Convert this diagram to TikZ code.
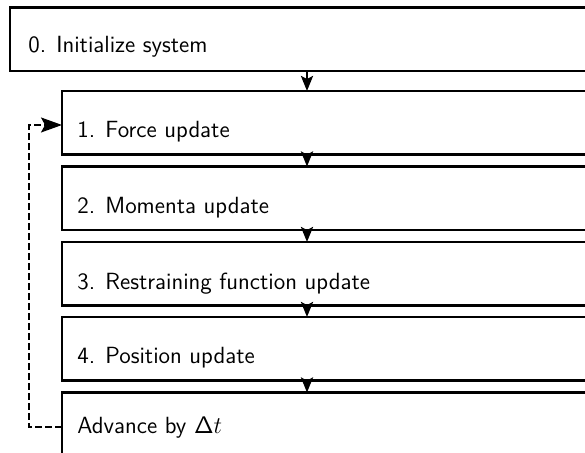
\documentclass[tikz,border=0pt]{standalone}
\usetikzlibrary{arrows.meta}
\begin{document}
\begin{tikzpicture}[x=0.5pt,y=-0.5pt,
  stepbox/.style={draw, line width=1.2pt, rectangle, inner sep=0pt, outer sep=0pt,
    anchor=north west, minimum height=31.75pt},
  steptext/.style={anchor=base west, inner sep=0pt,
    font=\sffamily\fontsize{11.7}{14}\selectfont},
  flow/.style={line width=1.2pt, -{Stealth[length=7.5pt,width=6pt,inset=1.5pt]}},
  loopback/.style={line width=0.7pt, dash pattern=on 3.5pt off 1.5pt,
    -{Stealth[length=10.5pt,width=7.5pt,inset=2pt]}}]
\path[use as bounding box, clip] (0,0) rectangle (585,453);

% step boxes (they run past the right and bottom edges)
\node[stepbox, minimum width=295pt] (b0) at (10,7.5) {};
\node[stepbox, minimum width=269pt] (b1) at (62,91) {};
\node[stepbox, minimum width=269pt] (b2) at (62,166.5) {};
\node[stepbox, minimum width=269pt] (b3) at (62,242) {};
\node[stepbox, minimum width=269pt] (b4) at (62,317) {};
\node[stepbox, minimum width=269pt, minimum height=34.5pt] (b5) at (62,392.5) {};

% step labels
\node[steptext] (t0) at (28,52.7) {0. Initialize system};
\node[steptext] (t1) at (77,137.3) {1. Force update};
\node[steptext] (t2) at (77,213.3) {2. Momenta update};
\node[steptext] (t3) at (77,289.3) {3. Restraining function update};
\node[steptext] (t4) at (77,364) {4. Position update};
\node[steptext] (t5) at (77,434) {Advance by $\mathsf{\Delta}t$};

% downward flow between steps
\coordinate (ax) at (307,0);
\draw[flow] (b0.south -| ax) -- (b1.north -| ax);
\draw[flow] (b1.south -| ax) -- (b2.north -| ax);
\draw[flow] (b2.south -| ax) -- (b3.north -| ax);
\draw[flow] (b3.south -| ax) -- (b4.north -| ax);
\draw[flow] (b4.south -| ax) -- (b5.north -| ax);

% time-step loop back to the force update
\coordinate (lx) at (29,0);
\coordinate (lin) at (62,125);
\draw[loopback] (b5.west) -- (b5.west -| lx) -- (lx |- lin) -- (lin);
\end{tikzpicture}
\end{document}
